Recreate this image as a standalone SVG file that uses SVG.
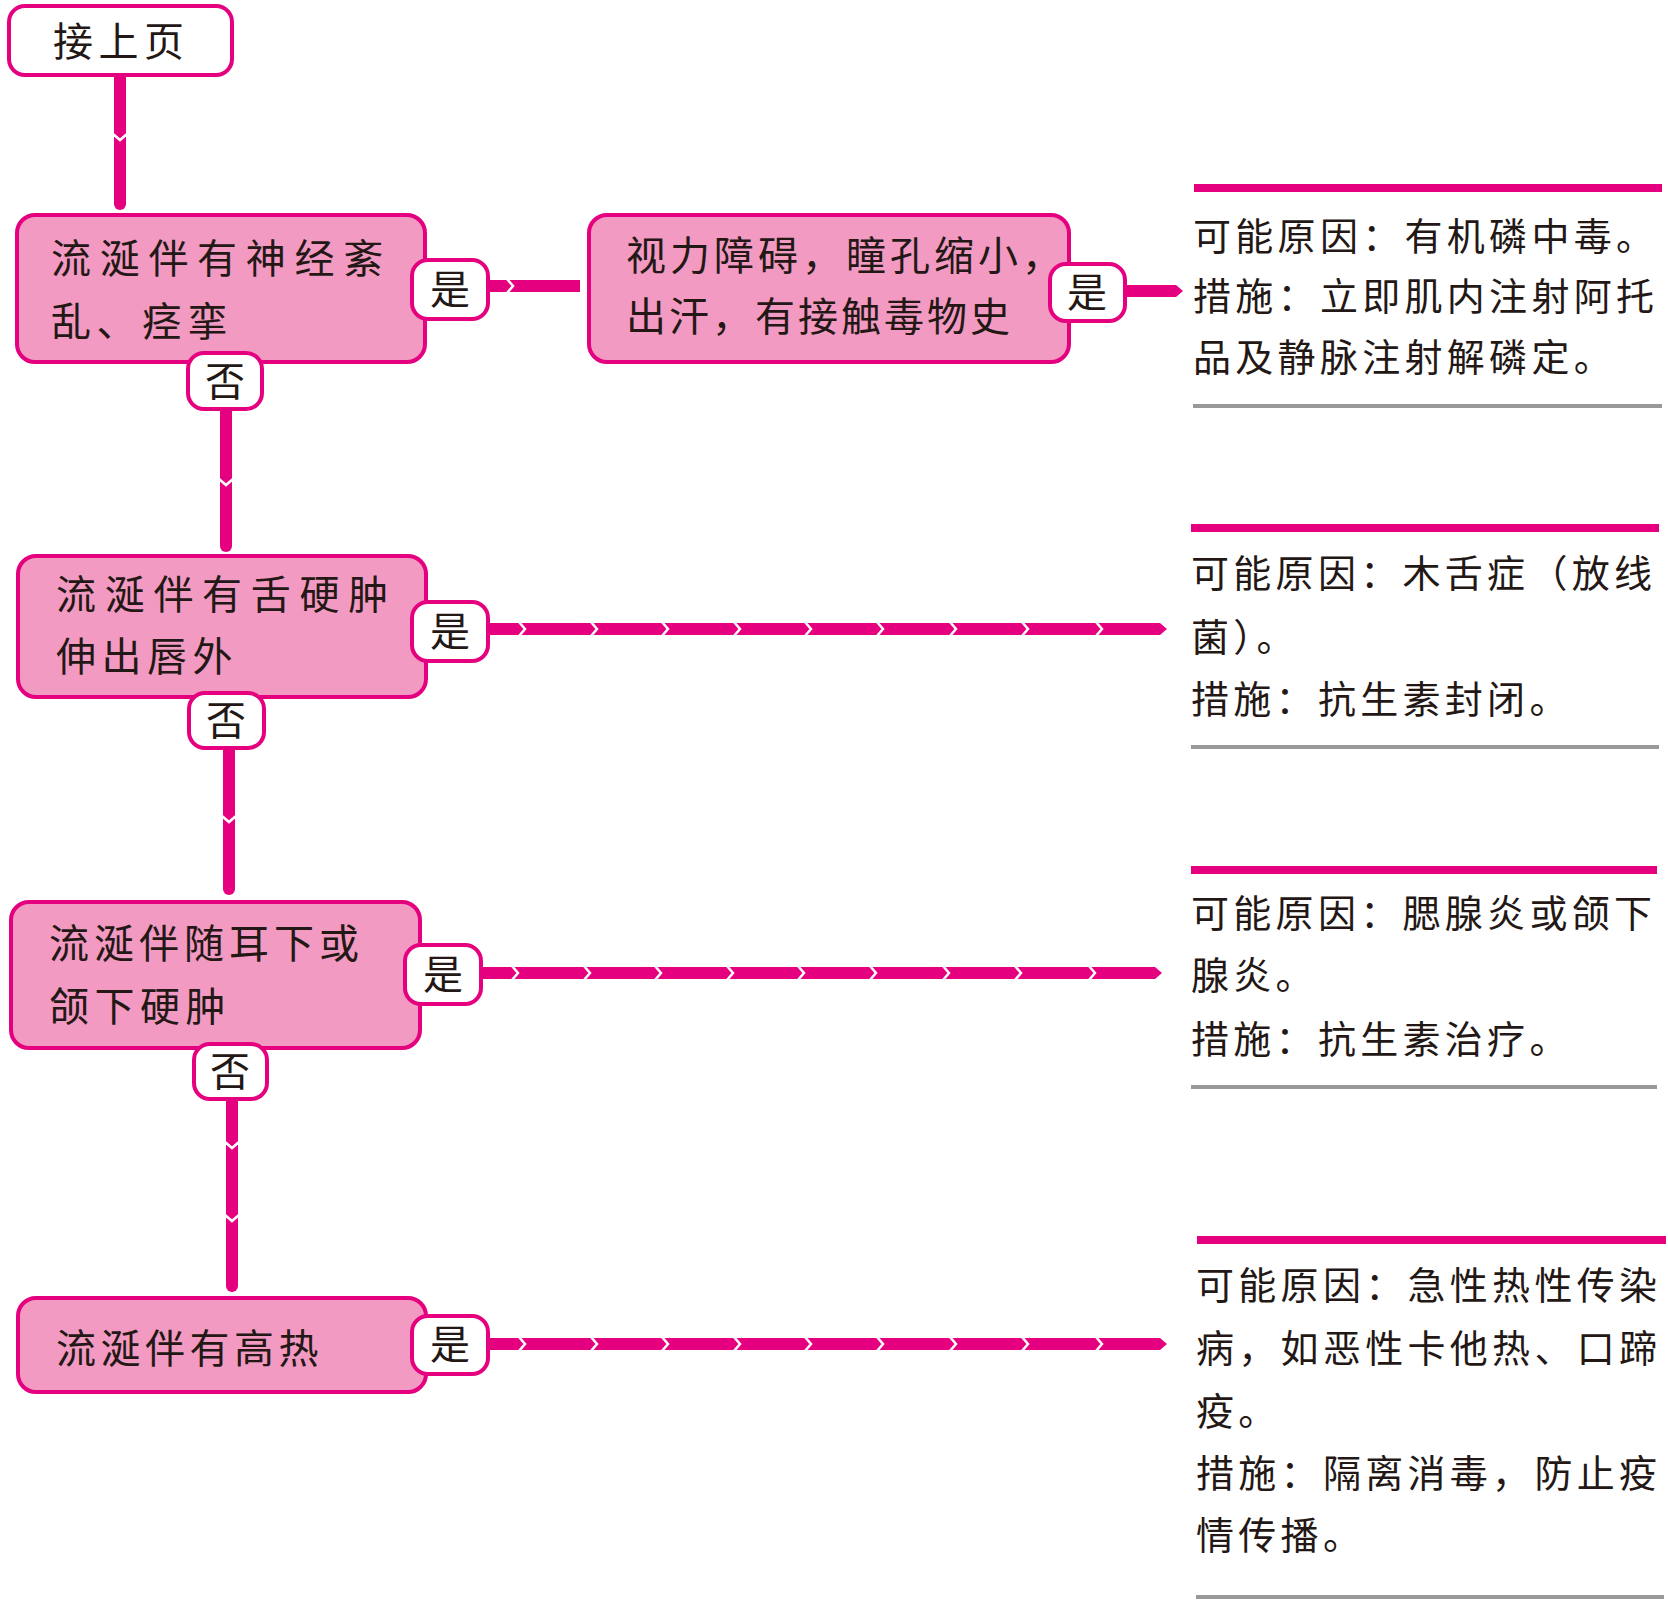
<svg xmlns="http://www.w3.org/2000/svg" width="1668" height="1620" viewBox="0 0 1668 1620">
<defs>
<style>
.node{fill:#F29AC1;stroke:#E5007F;stroke-width:4}
.start{fill:#fff;stroke:#E5007F;stroke-width:4}
.badge{fill:#fff;stroke:#E5007F;stroke-width:4}
.t{font-family:"Noto Sans CJK SC","Noto Sans",sans-serif;fill:#231815}
.nt{font-size:40px}
.bt{font-size:40px;text-anchor:middle}
.rt{font-size:38px;letter-spacing:4.3px}
.con{stroke:#E5007F;stroke-width:12;fill:none}
.pink{stroke:#E5007F;stroke-width:8}
.gray{stroke:#999999;stroke-width:4}
.chev{stroke:#fff;stroke-width:2.5;fill:none}
</style>
<path id="ch" class="chev" d="M-3,-7 L3,0 L-3,7"/>
<path id="cv" class="chev" d="M-7,-3 L0,3 L7,-3"/>
</defs>

<g id="connectors">
  <line class="con" x1="120" y1="74" x2="120" y2="204" stroke-linecap="round"/>
  <use href="#cv" x="120" y="137"/>
  <line class="con" x1="488" y1="286" x2="580" y2="286"/>
  <use href="#ch" x="510" y="286"/>
  <polygon fill="#E5007F" points="1125,285 1176,285 1183,291 1176,297 1125,297"/>
  <line class="con" x1="226" y1="409" x2="226" y2="546" stroke-linecap="round"/>
  <use href="#cv" x="226" y="482"/>
  <polygon fill="#E5007F" points="488,623 1160,623 1167,629 1160,635 488,635"/>
  <g>
    <use href="#ch" x="522" y="629"/><use href="#ch" x="594" y="629"/><use href="#ch" x="665" y="629"/>
    <use href="#ch" x="737" y="629"/><use href="#ch" x="808" y="629"/><use href="#ch" x="880" y="629"/>
    <use href="#ch" x="953" y="629"/><use href="#ch" x="1025" y="629"/><use href="#ch" x="1099" y="629"/>
  </g>
  <line class="con" x1="229" y1="748" x2="229" y2="889" stroke-linecap="round"/>
  <use href="#cv" x="229" y="819"/>
  <polygon fill="#E5007F" points="481,967 1155,967 1162,973 1155,979 481,979"/>
  <g>
    <use href="#ch" x="515" y="973"/><use href="#ch" x="587" y="973"/><use href="#ch" x="658" y="973"/>
    <use href="#ch" x="730" y="973"/><use href="#ch" x="801" y="973"/><use href="#ch" x="873" y="973"/>
    <use href="#ch" x="946" y="973"/><use href="#ch" x="1018" y="973"/><use href="#ch" x="1092" y="973"/>
  </g>
  <line class="con" x1="232" y1="1098" x2="232" y2="1286" stroke-linecap="round"/>
  <use href="#cv" x="232" y="1145"/>
  <use href="#cv" x="232" y="1218"/>
  <polygon fill="#E5007F" points="488,1338 1160,1338 1167,1344 1160,1350 488,1350"/>
  <g>
    <use href="#ch" x="522" y="1344"/><use href="#ch" x="594" y="1344"/><use href="#ch" x="665" y="1344"/>
    <use href="#ch" x="737" y="1344"/><use href="#ch" x="808" y="1344"/><use href="#ch" x="880" y="1344"/>
    <use href="#ch" x="953" y="1344"/><use href="#ch" x="1025" y="1344"/><use href="#ch" x="1099" y="1344"/>
  </g>
</g>

<g id="start">
  <rect class="start" x="9" y="6" width="223" height="69" rx="16"/>
  <text class="t nt" x="53" y="56" letter-spacing="5.5">接上页</text>
</g>

<g id="q1">
  <rect class="node" x="17" y="215" width="408" height="147" rx="18"/>
  <text class="t nt" x="51" y="273" letter-spacing="8.7">流涎伴有神经紊</text>
  <text class="t nt" x="51" y="336" letter-spacing="5.5">乱、痉挛</text>
</g>
<g id="q1-yes">
  <rect class="badge" x="412" y="260" width="76" height="59" rx="16"/>
  <text class="t bt" x="450" y="304">是</text>
</g>
<g id="q1-no">
  <rect class="badge" x="188" y="353" width="74" height="56" rx="16"/>
  <text class="t bt" x="225" y="396">否</text>
</g>

<g id="q1b">
  <rect class="node" x="589" y="215" width="480" height="147" rx="18"/>
  <text class="t nt" x="626" y="270" letter-spacing="4">视力障碍，瞳孔缩小，</text>
  <text class="t nt" x="626" y="331" letter-spacing="3">出汗，有接触毒物史</text>
</g>
<g id="q1b-yes">
  <rect class="badge" x="1050" y="264" width="75" height="57" rx="16"/>
  <text class="t bt" x="1087" y="307">是</text>
</g>

<g id="r1">
  <line class="pink" x1="1194" y1="188" x2="1662" y2="188"/>
  <text class="t rt" x="1193" y="250">可能原因：有机磷中毒。</text>
  <text class="t rt" x="1193" y="310">措施：立即肌内注射阿托</text>
  <text class="t rt" x="1193" y="371">品及静脉注射解磷定。</text>
  <line class="gray" x1="1193" y1="406" x2="1662" y2="406"/>
</g>

<g id="q2">
  <rect class="node" x="18" y="556" width="408" height="141" rx="18"/>
  <text class="t nt" x="56" y="609" letter-spacing="8.7">流涎伴有舌硬肿</text>
  <text class="t nt" x="56" y="671" letter-spacing="5.5">伸出唇外</text>
</g>
<g id="q2-yes">
  <rect class="badge" x="412" y="602" width="76" height="59" rx="16"/>
  <text class="t bt" x="450" y="646">是</text>
</g>
<g id="q2-no">
  <rect class="badge" x="189" y="693" width="75" height="55" rx="16"/>
  <text class="t bt" x="226" y="735">否</text>
</g>

<g id="r2">
  <line class="pink" x1="1191" y1="528" x2="1659" y2="528"/>
  <text class="t rt" x="1191" y="587">可能原因：木舌症（放线</text>
  <text class="t rt" x="1191" y="651">菌）。</text>
  <text class="t rt" x="1191" y="713">措施：抗生素封闭。</text>
  <line class="gray" x1="1191" y1="747" x2="1659" y2="747"/>
</g>

<g id="q3">
  <rect class="node" x="11" y="902" width="409" height="146" rx="18"/>
  <text class="t nt" x="49" y="958" letter-spacing="5">流涎伴随耳下或</text>
  <text class="t nt" x="49" y="1021" letter-spacing="5.5">颌下硬肿</text>
</g>
<g id="q3-yes">
  <rect class="badge" x="405" y="945" width="76" height="59" rx="16"/>
  <text class="t bt" x="443" y="989">是</text>
</g>
<g id="q3-no">
  <rect class="badge" x="194" y="1044" width="73" height="55" rx="16"/>
  <text class="t bt" x="230" y="1086">否</text>
</g>

<g id="r3">
  <line class="pink" x1="1191" y1="870" x2="1657" y2="870"/>
  <text class="t rt" x="1191" y="927">可能原因：腮腺炎或颌下</text>
  <text class="t rt" x="1191" y="989">腺炎。</text>
  <text class="t rt" x="1191" y="1053">措施：抗生素治疗。</text>
  <line class="gray" x1="1191" y1="1087" x2="1657" y2="1087"/>
</g>

<g id="q4">
  <rect class="node" x="18" y="1298" width="408" height="94" rx="18"/>
  <text class="t nt" x="56" y="1363" letter-spacing="4.5">流涎伴有高热</text>
</g>
<g id="q4-yes">
  <rect class="badge" x="412" y="1316" width="76" height="58" rx="16"/>
  <text class="t bt" x="450" y="1359">是</text>
</g>

<g id="r4">
  <line class="pink" x1="1197" y1="1240" x2="1666" y2="1240"/>
  <text class="t rt" x="1196" y="1299">可能原因：急性热性传染</text>
  <text class="t rt" x="1196" y="1362">病，如恶性卡他热、口蹄</text>
  <text class="t rt" x="1196" y="1425">疫。</text>
  <text class="t rt" x="1196" y="1487">措施：隔离消毒，防止疫</text>
  <text class="t rt" x="1196" y="1549">情传播。</text>
  <line class="gray" x1="1196" y1="1597" x2="1664" y2="1597"/>
</g>
</svg>
